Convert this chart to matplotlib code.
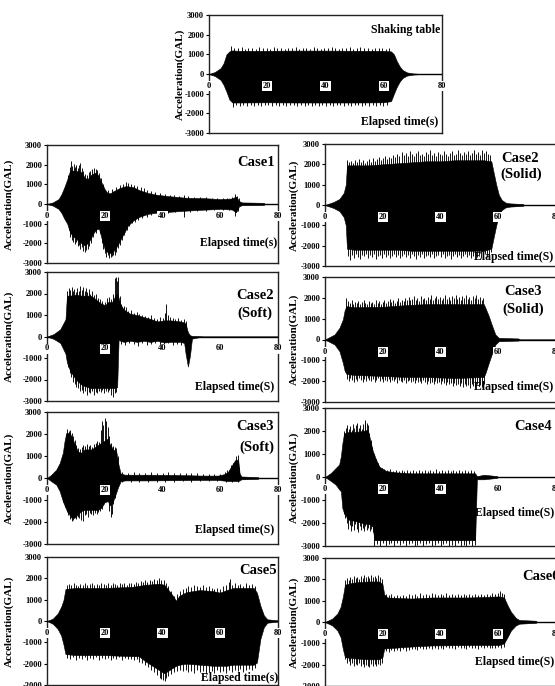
import matplotlib
matplotlib.use("Agg")
import matplotlib.pyplot as plt

W, H = 555, 686
FONT = "Liberation Serif"

# ---------------- data (GAL vs elapsed time s) ----------------
# Each record: base envelope (t, upper, lower) + peak spikes (t, value) above / below it.

# Shaking table
st_t  = [0, 2, 4, 5, 6, 7, 8, 10, 20, 30, 40, 50, 60, 62.5, 63.5, 64.5, 65.5, 66.5, 68, 70, 72, 80]
st_up = [0, 100, 300, 550, 1000, 1150, 1200, 1180, 1180, 1190, 1190, 1180, 1180, 1150, 1000, 650, 380, 200, 80, 30, 10, 0]
st_lo = [0, -100, -300, -550, -900, -1300, -1450, -1450, -1440, -1450, -1450, -1450, -1440, -1380, -1000, -650, -380, -200, -80, -30, -10, 0]
st_pk_up = [(7.6, 1420), (8.7, 1330), (9.9, 1300), (11.2, 1360), (12.4, 1290), (13.5, 1340), (14.8, 1310),
            (16.1, 1280), (17.3, 1350), (18.6, 1300), (19.8, 1330), (21.0, 1290), (22.3, 1370), (23.5, 1300),
            (24.8, 1320), (26.0, 1280), (27.2, 1340), (28.5, 1310), (29.7, 1360), (31.0, 1290), (32.2, 1330),
            (33.4, 1300), (34.7, 1280), (35.9, 1350), (37.2, 1320), (38.4, 1290), (39.6, 1340), (40.9, 1300),
            (42.1, 1360), (43.4, 1310), (44.6, 1280), (45.8, 1330), (47.1, 1300), (48.3, 1350), (49.6, 1290),
            (50.8, 1320), (52.0, 1370), (53.3, 1300), (54.5, 1330), (55.8, 1290), (57.0, 1340), (58.2, 1310),
            (59.5, 1300), (60.7, 1280), (61.9, 1320)]
st_pk_lo = [(8.1, -1660), (9.3, -1580), (10.6, -1620), (11.8, -1560), (13.0, -1640), (14.3, -1590), (15.5, -1610),
            (16.7, -1570), (18.0, -1650), (19.2, -1580), (20.4, -1600), (21.7, -1630), (22.9, -1560), (24.1, -1620),
            (25.4, -1590), (26.6, -1650), (27.8, -1570), (29.1, -1600), (30.3, -1620), (31.5, -1580), (32.8, -1640),
            (34.0, -1560), (35.2, -1610), (36.5, -1590), (37.7, -1650), (38.9, -1570), (40.2, -1620), (41.4, -1600),
            (42.6, -1640), (43.9, -1580), (45.1, -1560), (46.3, -1630), (47.6, -1600), (48.8, -1650), (50.0, -1590),
            (51.3, -1570), (52.5, -1620), (53.7, -1600), (55.0, -1640), (56.2, -1580), (57.4, -1610), (58.7, -1590),
            (59.9, -1650), (61.1, -1600)]

# Case1
c1_t  = [0, 2, 4, 5, 6, 7, 8, 9, 10, 11, 12, 13, 14, 15, 16, 17, 18, 19, 20, 21, 22, 23, 24, 25, 26, 27, 28, 30, 32, 35, 38, 42, 48, 54, 60, 64, 65.5, 66.5, 67.5, 75, 75.5, 80]
c1_up = [0, 80, 250, 500, 850, 1250, 1700, 1700, 1650, 1700, 1600, 1350, 1250, 1450, 1550, 1600, 1400, 1050, 750, 550, 550, 650, 720, 800, 850, 900, 900, 850, 700, 560, 470, 400, 320, 300, 250, 280, 380, 150, 80, 60, 0, 0]
c1_lo = [0, -80, -250, -450, -750, -1000, -1450, -1650, -1750, -1900, -2000, -2100, -2000, -1800, -1500, -1300, -1250, -1800, -2300, -2450, -2500, -2400, -2200, -1950, -1650, -1400, -1100, -820, -650, -500, -440, -400, -340, -290, -250, -280, -420, -120, -60, -50, 0, 0]
c1_pk_up = [(7.3, 1500), (7.8, 1900), (8.2, 2200), (8.7, 1950), (9.2, 2050), (9.7, 1900), (10.2, 2000), (10.7, 1850),
            (11.2, 2000), (11.6, 2100), (12.1, 1850), (12.6, 1700), (13.2, 1550), (13.8, 1500), (14.4, 1650),
            (15.0, 1700), (15.6, 1780), (16.2, 1820), (16.8, 1800), (17.4, 1750), (18.0, 1600), (18.6, 1300),
            (19.4, 1000), (21.0, 700), (22.5, 750), (24.0, 880), (25.2, 950), (26.3, 1000), (27.4, 1100),
            (28.2, 1050), (29.0, 1020), (30.2, 950), (31.3, 900), (32.5, 850), (33.6, 820), (34.7, 700),
            (36.0, 680), (37.4, 600), (39.0, 550), (40.8, 500), (42.5, 480), (44.0, 450), (45.8, 430), (47.5, 460),
            (49.0, 400), (51.0, 380), (53.0, 360), (55.0, 350), (57.0, 320), (59.0, 300), (61.0, 300), (62.5, 320),
            (64.0, 380), (65.0, 500), (65.8, 420), (66.6, 300)]
c1_pk_lo = [(7.5, -1300), (8.0, -1700), (8.6, -1850), (9.1, -1950), (9.6, -2050), (10.1, -1950), (10.6, -2150),
            (11.1, -2100), (11.6, -2300), (12.1, -2200), (12.6, -2400), (13.1, -2450), (13.6, -2350), (14.1, -2300),
            (14.7, -2150), (15.3, -2000), (16.0, -1700), (17.0, -1450), (18.2, -1450), (18.9, -2000), (19.5, -2300),
            (20.0, -2500), (20.5, -2700), (21.0, -2600), (21.5, -2750), (22.0, -2700), (22.5, -2650), (23.0, -2600),
            (23.5, -2600), (24.0, -2450), (24.6, -2250), (25.3, -2100), (26.0, -1850), (26.8, -1600), (27.6, -1300),
            (28.5, -1100), (29.5, -950), (30.5, -900), (31.6, -800), (33.0, -720), (34.5, -650), (36.0, -580),
            (38.0, -520), (40.0, -480), (42.0, -450), (44.5, -430), (47.5, -650), (49.5, -400), (52.0, -380),
            (55.0, -350), (58.0, -320), (61.0, -300), (63.0, -320), (65.0, -600), (66.0, -350)]

# Case2 (Solid)
c2s_t  = [0, 3, 5, 6.5, 7.2, 7.6, 10, 15, 20, 25, 30, 35, 40, 45, 50, 55, 57.6, 58.4, 59.3, 60.2, 61.2, 62.5, 64, 68.5, 69, 80]
c2s_up = [0, 150, 300, 600, 1000, 1950, 1950, 1950, 2000, 2050, 2100, 2150, 2150, 2200, 2200, 2200, 2150, 1600, 1000, 500, 250, 120, 80, 50, 0, 0]
c2s_lo = [0, -150, -300, -600, -1000, -2150, -2200, -2200, -2200, -2200, -2250, -2250, -2250, -2250, -2250, -2250, -2150, -1600, -1000, -500, -250, -120, -80, -40, 0, 0]
c2s_pk_up = [(7.6, 2200), (8.3, 2100), (9.0, 2150), (9.7, 2050), (10.4, 2200), (11.1, 2100), (11.8, 2250), (12.5, 2100),
             (13.2, 2200), (13.9, 2050), (14.6, 2150), (15.3, 2250), (16.0, 2100), (16.7, 2300), (17.4, 2150),
             (18.1, 2250), (18.8, 2350), (19.5, 2200), (20.2, 2300), (20.9, 2400), (21.6, 2250), (22.3, 2350),
             (23.0, 2300), (23.7, 2450), (24.4, 2350), (25.1, 2500), (25.8, 2400), (26.5, 2600), (27.2, 2450),
             (27.9, 2550), (28.6, 2400), (29.3, 2650), (30.0, 2500), (30.7, 2400), (31.4, 2550), (32.1, 2650),
             (32.8, 2450), (33.5, 2500), (34.2, 2400), (34.9, 2600), (35.6, 2500), (36.3, 2700), (37.0, 2450),
             (37.7, 2550), (38.4, 2400), (39.1, 2600), (39.8, 2500), (40.5, 2450), (41.2, 2650), (41.9, 2500),
             (42.6, 2400), (43.3, 2550), (44.0, 2650), (44.7, 2450), (45.4, 2500), (46.1, 2700), (46.8, 2550),
             (47.5, 2450), (48.2, 2600), (48.9, 2500), (49.6, 2650), (50.3, 2450), (51.0, 2550), (51.7, 2700),
             (52.4, 2500), (53.1, 2600), (53.8, 2450), (54.5, 2700), (55.2, 2550), (55.9, 2650), (56.6, 2500),
             (57.2, 2450)]
c2s_pk_lo = [(7.8, -2500), (8.5, -2700), (9.2, -2450), (9.9, -2600), (10.6, -2400), (11.3, -2550), (12.0, -2650),
             (12.7, -2450), (13.4, -2500), (14.1, -2400), (14.8, -2600), (15.5, -2450), (16.2, -2550), (16.9, -2400),
             (17.6, -2650), (18.3, -2500), (19.0, -2450), (19.7, -2600), (20.4, -2400), (21.1, -2550), (21.8, -2450),
             (22.5, -2600), (23.2, -2500), (23.9, -2400), (24.6, -2550), (25.3, -2450), (26.0, -2600), (26.7, -2500),
             (27.4, -2400), (28.1, -2550), (28.8, -2450), (29.5, -2600), (30.2, -2400), (30.9, -2500), (31.6, -2650),
             (32.3, -2450), (33.0, -2550), (33.7, -2400), (34.4, -2600), (35.1, -2500), (35.8, -2450), (36.5, -2550),
             (37.2, -2400), (37.9, -2600), (38.6, -2500), (39.3, -2450), (40.0, -2550), (40.7, -2400), (41.4, -2600),
             (42.1, -2500), (42.8, -2450), (43.5, -2650), (44.2, -2500), (44.9, -2400), (45.6, -2550), (46.3, -2450),
             (47.0, -2600), (47.7, -2500), (48.4, -2400), (49.1, -2550), (49.8, -2450), (50.5, -2600), (51.2, -2500),
             (51.9, -2400), (52.6, -2550), (53.3, -2450), (54.0, -2600), (54.7, -2500), (55.4, -2400), (56.1, -2550),
             (56.8, -2450), (57.4, -2300)]

# Case2 (Soft)
c2f_t  = [0, 2.3, 4.6, 6.4, 6.9, 8, 10, 12, 15, 16.2, 18.5, 20.2, 21, 22.5, 23.7, 24.3, 24.8, 25.4, 26.6, 28.9, 31.2, 33.5, 35.8, 38.2, 40.5, 42.8, 46.2, 47.5, 48, 48.8, 49.5, 50.2, 53, 54, 80]
c2f_up = [0, 110, 340, 800, 1900, 1900, 1950, 1900, 1900, 1800, 1550, 1450, 1600, 1600, 1900, 2000, 1800, 1500, 1250, 1050, 1000, 900, 820, 700, 750, 750, 700, 650, 600, 200, 60, 30, 20, 0, 0]
c2f_lo = [0, -110, -300, -800, -1200, -1600, -2000, -2250, -2400, -2400, -2400, -2400, -2400, -2400, -2400, -2350, -150, -200, -250, -200, -250, -200, -250, -200, -280, -250, -250, -300, -800, -1400, -900, -100, -20, 0, 0]
c2f_pk_up = [(7.0, 2100), (7.5, 2250), (8.0, 2150), (8.5, 2300), (9.0, 2100), (9.5, 2200), (10.0, 2050), (10.5, 2250),
             (11.0, 2100), (11.5, 2350), (12.0, 2150), (12.5, 2300), (13.0, 2100), (13.5, 2250), (14.0, 2050),
             (14.5, 2200), (15.0, 2000), (15.6, 2100), (16.2, 1950), (16.8, 2000), (17.5, 1800), (18.3, 1750),
             (19.2, 1650), (20.0, 1600), (20.8, 1800), (21.5, 1850), (22.2, 1750), (22.8, 2000), (23.4, 2700),
             (23.8, 2750), (24.2, 2600), (24.7, 2750), (25.2, 1900), (25.8, 1500), (26.5, 1400), (27.3, 1350),
             (28.2, 1200), (29.0, 1250), (30.0, 1100), (31.0, 1150), (32.0, 1050), (33.0, 1000), (34.0, 950),
             (35.0, 900), (36.0, 1000), (37.0, 850), (38.0, 800), (39.0, 900), (40.0, 850), (40.7, 1100),
             (41.2, 1500), (41.8, 1000), (42.6, 900), (43.5, 850), (44.5, 800), (45.5, 850), (46.5, 750),
             (47.5, 800), (48.0, 700)]
c2f_pk_lo = [(7.2, -1400), (7.8, -1700), (8.4, -1900), (9.0, -2100), (9.6, -2200), (10.2, -2350), (10.8, -2400),
             (11.4, -2550), (12.0, -2500), (12.6, -2650), (13.2, -2550), (13.8, -2700), (14.4, -2600), (15.0, -2650),
             (15.6, -2550), (16.2, -2700), (16.8, -2600), (17.4, -2650), (18.0, -2550), (18.6, -2600), (19.2, -2500),
             (19.8, -2650), (20.4, -2550), (21.0, -2600), (21.6, -2500), (22.2, -2700), (22.8, -2800), (23.4, -2650),
             (24.0, -2600), (25.5, -350), (27.0, -400), (28.5, -300), (30.0, -350), (31.5, -450), (33.0, -300),
             (34.5, -400), (36.0, -350), (37.5, -300), (39.0, -400), (40.5, -350), (42.0, -300), (43.5, -400),
             (45.0, -350), (46.5, -400)]

# Case3 (Solid)
c3s_t  = [0, 3.3, 5, 6.2, 6.8, 7.4, 10, 20, 28, 35, 45, 55, 55.6, 56.7, 57.9, 59, 60.2, 67, 67.5, 80]
c3s_up = [0, 240, 560, 970, 1400, 1600, 1550, 1570, 1650, 1700, 1700, 1700, 1500, 1130, 650, 240, 80, 50, 0, 0]
c3s_lo = [0, -240, -560, -1130, -1500, -1650, -1700, -1750, -1800, -1800, -1850, -1800, -1600, -1130, -650, -240, -80, -50, 0, 0]
c3s_pk_up = [(7.4, 2000), (8.0, 1850), (8.6, 1750), (9.2, 1900), (9.8, 1700), (10.4, 1800), (11.0, 1750), (11.6, 1850),
             (12.2, 1700), (12.8, 1800), (13.4, 1900), (14.0, 1750), (14.6, 1700), (15.2, 1850), (15.8, 1750),
             (16.4, 1800), (17.0, 1700), (17.6, 1900), (18.2, 1750), (18.8, 1850), (19.4, 1700), (20.0, 1800),
             (20.6, 1900), (21.2, 1750), (21.8, 1850), (22.4, 1950), (23.0, 1800), (23.6, 1900), (24.2, 1750),
             (24.8, 1850), (25.4, 2000), (26.0, 1800), (26.6, 1900), (27.2, 1850), (27.8, 2000), (28.4, 1900),
             (29.0, 2050), (29.6, 1900), (30.2, 1950), (30.8, 2100), (31.4, 1900), (32.0, 2000), (32.6, 1850),
             (33.2, 2100), (33.8, 1950), (34.4, 2000), (35.0, 1900), (35.6, 2050), (36.2, 1950), (36.8, 2150),
             (37.4, 1900), (38.0, 2000), (38.6, 2100), (39.2, 1950), (39.8, 2050), (40.4, 1900), (41.0, 2000),
             (41.6, 2150), (42.2, 1950), (42.8, 2050), (43.4, 1900), (44.0, 2100), (44.6, 2000), (45.2, 2150),
             (45.8, 1950), (46.4, 2050), (47.0, 1900), (47.6, 2100), (48.2, 2000), (48.8, 2150), (49.4, 1950),
             (50.0, 2050), (50.6, 1900), (51.2, 2100), (51.8, 2000), (52.4, 2150), (53.0, 1950), (53.6, 2050),
             (54.2, 1900), (54.8, 2000)]
c3s_pk_lo = [(7.6, -1900), (8.2, -2000), (8.8, -1850), (9.4, -1950), (10.0, -2050), (10.6, -1900), (11.2, -2000),
             (11.8, -1850), (12.4, -1950), (13.0, -2050), (13.6, -1900), (14.2, -2000), (14.8, -1850), (15.4, -1950),
             (16.0, -2000), (16.6, -1900), (17.2, -2050), (17.8, -1950), (18.4, -1850), (19.0, -2000), (19.6, -1900),
             (20.2, -2050), (20.8, -1950), (21.4, -2000), (22.0, -1900), (22.6, -2050), (23.2, -1950), (23.8, -2000),
             (24.4, -1900), (25.0, -2100), (25.6, -1950), (26.2, -2000), (26.8, -2050), (27.4, -1950), (28.0, -2100),
             (28.6, -2000), (29.2, -1950), (29.8, -2050), (30.4, -2000), (31.0, -2100), (31.6, -1950), (32.2, -2050),
             (32.8, -2000), (33.4, -2100), (34.0, -1950), (34.6, -2050), (35.2, -2150), (35.8, -2000), (36.4, -2100),
             (37.0, -2050), (37.6, -2150), (38.2, -2000), (38.8, -2100), (39.4, -2050), (40.0, -2150), (40.6, -2000),
             (41.2, -2100), (41.8, -2200), (42.4, -2050), (43.0, -2150), (43.6, -2100), (44.2, -2250), (44.8, -2100),
             (45.4, -2200), (46.0, -2150), (46.6, -2250), (47.2, -2100), (47.8, -2300), (48.4, -2150), (49.0, -2250),
             (49.6, -2200), (50.2, -2350), (50.8, -2150), (51.4, -2250), (52.0, -2300), (52.6, -2150), (53.2, -2250),
             (53.8, -2200), (54.4, -2300), (55.0, -2150)]

# Case3 (Soft)
c3f_t  = [0, 1.5, 3.2, 4.4, 5.5, 6.1, 6.7, 7.9, 8.4, 9.6, 10.7, 11.9, 13, 15.4, 17.7, 18.8, 20, 21.1, 21.7, 22.9, 24, 24.6, 25.5, 27, 35, 45, 53.5, 59.2, 61.5, 62.7, 63.9, 65, 66.2, 66.7, 67.3, 73, 73.5, 80]
c3f_up = [0, 150, 380, 680, 1150, 1700, 2050, 2050, 1900, 1550, 1200, 1150, 1300, 1300, 1500, 1600, 1700, 1800, 1550, 1300, 1200, 700, 200, 150, 150, 140, 110, 110, 180, 280, 550, 780, 850, 220, 70, 40, 0, 0]
c3f_lo = [0, -150, -300, -600, -1060, -1250, -1440, -1700, -1800, -1800, -1650, -1500, -1450, -1450, -1450, -1350, -1100, -1050, -1250, -1050, -650, -420, -150, -110, -110, -100, -90, -90, -120, -140, -140, -140, -140, -110, -60, -40, 0, 0]
c3f_pk_up = [(6.5, 2000), (7.0, 2250), (7.5, 2150), (8.0, 2200), (8.5, 2050), (9.0, 1900), (9.6, 1750), (10.2, 1500),
             (10.8, 1350), (11.4, 1300), (12.0, 1400), (12.6, 1500), (13.2, 1450), (13.8, 1550), (14.4, 1450),
             (15.0, 1500), (15.6, 1400), (16.2, 1550), (16.8, 1600), (17.4, 1700), (18.0, 1650), (18.6, 2200),
             (19.0, 2580), (19.5, 2400), (20.0, 2730), (20.5, 2600), (21.0, 2300), (21.6, 1900), (22.2, 1600),
             (22.8, 1450), (23.4, 1400), (24.0, 1350), (24.5, 1000), (26.0, 260), (28.0, 230), (30.0, 270),
             (32.0, 220), (34.0, 250), (36.0, 260), (38.0, 220), (40.0, 240), (42.0, 260), (44.0, 230), (46.0, 250),
             (48.0, 220), (50.0, 240), (52.0, 210), (54.0, 200), (56.0, 190), (58.0, 180), (60.0, 200), (61.5, 270),
             (62.5, 380), (63.2, 350), (63.8, 600), (64.5, 700), (65.0, 830), (65.6, 1000), (66.1, 1030), (66.5, 500)]
c3f_pk_lo = [(5.5, -1100), (6.2, -1300), (6.8, -1550), (7.4, -1700), (8.0, -1850), (8.5, -1950), (9.0, -1900),
             (9.5, -1800), (10.0, -1850), (10.6, -1750), (11.2, -1800), (11.8, -1900), (12.4, -1950), (13.0, -1700),
             (13.6, -1650), (14.2, -1750), (14.8, -1600), (15.4, -1650), (16.0, -1700), (16.6, -1600), (17.2, -1650),
             (17.8, -1550), (18.4, -1500), (19.0, -1400), (21.6, -1500), (22.0, -1750), (22.4, -1650), (23.0, -1200),
             (23.6, -900), (26.0, -180), (29.0, -200), (32.0, -170), (35.0, -190), (38.0, -160), (41.0, -180),
             (44.0, -170), (47.0, -150), (50.0, -160), (53.0, -140), (56.0, -150), (59.0, -140), (62.0, -170),
             (64.0, -180), (66.0, -170)]

# Case4
c4_t  = [0, 2, 3.7, 4.9, 5.5, 6, 6.6, 8, 10, 13, 14.8, 15.3, 16.5, 17.1, 17.7, 18.8, 21.2, 24.7, 30, 40, 50, 52, 52.6, 55, 59.5, 60, 80]
c4_up = [0, 170, 390, 540, 900, 1450, 1900, 1950, 1950, 2000, 2050, 1800, 1150, 950, 750, 450, 260, 200, 160, 160, 160, 160, 30, 100, 40, 0, 0]
c4_lo = [0, -170, -330, -540, -620, -1350, -1570, -1850, -1900, -2000, -2050, -2050, -2150, -2750, -2750, -2750, -2750, -2750, -2750, -2750, -2750, -2750, -100, -100, -40, 0, 0]
c4_pk_up = [(6.7, 2000), (7.2, 2150), (7.7, 2250), (8.2, 2100), (8.7, 2200), (9.2, 2050), (9.7, 2300), (10.2, 2150),
            (10.7, 2250), (11.2, 2350), (11.7, 2150), (12.2, 2250), (12.7, 2100), (13.2, 2300), (13.7, 2400),
            (14.0, 2490), (14.4, 2350), (14.8, 2250), (15.3, 1900), (15.8, 1600), (16.4, 1300), (17.0, 1000),
            (17.6, 800), (18.2, 600), (18.8, 500), (19.6, 400), (20.5, 330), (21.5, 300), (22.5, 330), (23.5, 280),
            (24.5, 300), (25.5, 270), (26.5, 320), (27.5, 250), (28.5, 300), (29.5, 260), (30.5, 320), (31.5, 250),
            (32.5, 290), (33.5, 260), (34.5, 310), (35.5, 250), (36.5, 300), (37.5, 260), (38.5, 330), (39.5, 250),
            (40.5, 300), (41.5, 270), (42.5, 310), (43.5, 250), (44.5, 290), (45.5, 260), (46.5, 320), (47.5, 250),
            (48.5, 300), (49.5, 270), (50.5, 310), (51.5, 260)]
c4_pk_lo = [(6.5, -1600), (7.0, -1800), (7.5, -2000), (8.0, -2250), (8.5, -2100), (9.0, -2350), (9.5, -2150),
            (10.0, -2300), (10.5, -2050), (11.0, -2250), (11.5, -2400), (12.0, -2150), (12.5, -2300), (13.0, -2200),
            (13.5, -2350), (14.0, -2150), (14.5, -2300), (15.0, -2200), (15.5, -2350), (16.0, -2250), (16.5, -2400),
            (17.1, -3000), (18.0, -2900), (19.0, -3000), (20.0, -2850), (21.0, -3000), (22.0, -2900), (23.0, -2850),
            (24.0, -3000), (25.0, -2850), (26.0, -2950), (27.0, -2850), (28.0, -3000), (29.0, -2900), (30.0, -2850),
            (31.0, -3000), (32.0, -2950), (33.0, -2850), (34.0, -3000), (35.0, -2900), (36.0, -2850), (37.0, -3000),
            (38.0, -2950), (39.0, -2850), (40.0, -3000), (41.0, -2900), (42.0, -2850), (43.0, -3000), (44.0, -2950),
            (45.0, -3000), (46.0, -2850), (47.0, -3000), (48.0, -2950), (49.0, -3000), (50.0, -2900), (51.0, -3000),
            (52.0, -2950)]

# Case5
c5_t  = [0, 2, 3.7, 4.9, 5.7, 6.4, 10, 20, 29.5, 31.8, 34.2, 36.5, 38.8, 40.6, 41.8, 43.5, 44.7, 45.8, 48.2, 52.9, 57.5, 59.9, 62.2, 64.6, 71.6, 72.7, 73.9, 75.1, 76.3, 79.8, 80]
c5_up = [0, 110, 350, 670, 980, 1500, 1550, 1550, 1600, 1650, 1700, 1720, 1750, 1700, 1500, 1200, 950, 1180, 1350, 1450, 1400, 1330, 1450, 1550, 1550, 1330, 720, 270, 80, 30, 0]
c5_lo = [0, -130, -370, -680, -1100, -1550, -1600, -1600, -1650, -1650, -1900, -2100, -2300, -2450, -2350, -2200, -2100, -2050, -2000, -2050, -2100, -2100, -2100, -2050, -2050, -1950, -840, -290, -80, -30, 0]
c5_pk_up = [(6.8, 1700), (7.6, 1750), (8.4, 1680), (9.2, 1780), (10.0, 1700), (10.8, 1650), (11.6, 1750), (12.4, 1700),
            (13.2, 1780), (14.0, 1680), (14.8, 1720), (15.6, 1760), (16.4, 1680), (17.2, 1740), (18.0, 1700),
            (18.8, 1780), (19.6, 1720), (20.4, 1680), (21.2, 1760), (22.0, 1700), (22.8, 1800), (23.6, 1720),
            (24.4, 1680), (25.2, 1760), (26.0, 1720), (26.8, 1780), (27.6, 1700), (28.4, 1760), (29.2, 1800),
            (30.0, 1750), (30.8, 1850), (31.6, 1800), (32.4, 1880), (33.2, 1820), (34.0, 1900), (34.8, 1850),
            (35.6, 1920), (36.4, 1880), (37.2, 1950), (38.0, 1900), (38.8, 2020), (39.6, 1920), (40.4, 1900),
            (41.2, 1800), (42.0, 1650), (43.0, 1400), (44.0, 1150), (45.0, 1250), (46.0, 1400), (47.0, 1500),
            (48.0, 1550), (49.0, 1650), (50.0, 1600), (51.0, 1700), (52.0, 1650), (53.0, 1600), (54.0, 1700),
            (55.0, 1580), (56.0, 1650), (57.0, 1550), (58.0, 1500), (59.0, 1550), (60.0, 1500), (61.0, 1650),
            (62.0, 1700), (63.0, 1850), (63.5, 1950), (64.2, 1700), (65.0, 1800), (66.0, 1700), (67.0, 1750),
            (68.0, 1650), (69.0, 1800), (70.0, 1700), (71.0, 1750), (72.0, 1650)]
c5_pk_lo = [(7.0, -1750), (8.0, -1800), (9.0, -1700), (10.0, -1850), (11.0, -1750), (12.0, -1800), (13.0, -1700),
            (14.0, -1850), (15.0, -1750), (16.0, -1800), (17.0, -1700), (18.0, -1850), (19.0, -1750), (20.0, -1800),
            (21.0, -1720), (22.0, -1850), (23.0, -1750), (24.0, -1800), (25.0, -1700), (26.0, -1850), (27.0, -1750),
            (28.0, -1800), (29.0, -1780), (30.0, -1850), (31.0, -1800), (32.0, -1900), (33.0, -1950), (34.0, -2050),
            (35.0, -2150), (36.0, -2300), (37.0, -2400), (38.0, -2550), (39.0, -2650), (39.6, -2700), (40.2, -2750),
            (40.7, -2800), (41.3, -2650), (42.0, -2600), (43.0, -2500), (44.0, -2400), (45.0, -2350), (46.0, -2300),
            (47.0, -2350), (48.0, -2300), (49.0, -2400), (50.0, -2350), (51.0, -2450), (52.0, -2300), (53.0, -2400),
            (54.0, -2350), (55.0, -2500), (56.0, -2400), (57.0, -2350), (58.0, -2450), (59.0, -2300), (60.0, -2400),
            (61.0, -2350), (62.0, -2450), (63.0, -2300), (64.0, -2400), (65.0, -2300), (66.0, -2350), (67.0, -2250),
            (68.0, -2400), (69.0, -2300), (70.0, -2250), (71.0, -2300), (72.0, -2200)]

# Case6
c6_t  = [0, 2.5, 4.3, 5.4, 6.2, 6.9, 10, 15, 18.7, 19.9, 20.5, 21.6, 30, 37, 50, 60.3, 62, 63.2, 64.4, 66.1, 67.3, 73, 73.5, 80]
c6_up = [0, 160, 400, 710, 1190, 1750, 1850, 1900, 1900, 1780, 1300, 1150, 1100, 1150, 1150, 1200, 1150, 790, 480, 190, 95, 60, 0, 0]
c6_lo = [0, -160, -400, -710, -1270, -1650, -1700, -1750, -1750, -1650, -1250, -1230, -1150, -1100, -1080, -1080, -1000, -710, -400, -160, -80, -40, 0, 0]
c6_pk_up = [(7.0, 1950), (7.6, 2050), (8.2, 1950), (8.8, 2100), (9.4, 2000), (10.0, 2150), (10.6, 2050), (11.2, 2100),
            (11.8, 2000), (12.4, 2150), (13.0, 2050), (13.6, 2200), (14.2, 2100), (14.8, 2150), (15.4, 2050),
            (16.0, 2200), (16.6, 2100), (17.2, 2150), (17.8, 2050), (18.4, 2200), (19.0, 2100), (19.6, 2000),
            (21.0, 1300), (22.0, 1250), (23.0, 1300), (24.0, 1220), (25.0, 1280), (26.0, 1200), (27.0, 1260),
            (28.0, 1220), (29.0, 1300), (30.0, 1250), (31.0, 1320), (32.0, 1240), (33.0, 1380), (34.0, 1260),
            (35.0, 1320), (36.0, 1280), (37.0, 1350), (38.0, 1300), (39.0, 1280), (40.0, 1320), (41.0, 1260),
            (42.0, 1340), (43.0, 1280), (44.0, 1320), (45.0, 1260), (46.0, 1300), (47.0, 1280), (48.0, 1320),
            (49.0, 1260), (50.0, 1300), (51.0, 1280), (52.0, 1330), (53.0, 1260), (54.0, 1300), (55.0, 1280),
            (56.0, 1320), (57.0, 1280), (58.0, 1350), (59.0, 1300), (60.0, 1380), (60.5, 1430), (61.2, 1350),
            (62.0, 1300)]
c6_pk_lo = [(7.0, -1750), (7.6, -1900), (8.2, -1850), (8.8, -2000), (9.4, -1900), (10.0, -2050), (10.6, -1950),
            (11.2, -2000), (11.8, -1900), (12.4, -2050), (13.0, -1950), (13.6, -2100), (14.2, -2000), (14.8, -2050),
            (15.3, -2100), (16.0, -1950), (16.6, -2050), (17.2, -1950), (17.8, -2050), (18.4, -1950), (19.0, -2000),
            (19.6, -1900), (21.0, -1350), (22.0, -1400), (23.0, -1320), (24.0, -1380), (25.0, -1300), (26.0, -1350),
            (27.0, -1280), (28.0, -1340), (29.0, -1300), (30.0, -1280), (31.0, -1250), (32.0, -1300), (33.0, -1220),
            (34.0, -1280), (35.0, -1250), (36.0, -1200), (37.0, -1260), (38.0, -1220), (39.0, -1280), (40.0, -1200),
            (41.0, -1250), (42.0, -1180), (43.0, -1240), (44.0, -1200), (45.0, -1260), (46.0, -1180), (47.0, -1230),
            (48.0, -1200), (49.0, -1250), (50.0, -1180), (51.0, -1220), (52.0, -1200), (53.0, -1250), (54.0, -1180),
            (55.0, -1220), (56.0, -1180), (57.0, -1240), (58.0, -1200), (59.0, -1230), (60.0, -1180), (61.0, -1220),
            (62.0, -1150)]

x_ticks = [0, 20, 40, 60, 80]
y_ticks = [-3000, -2000, -1000, 0, 1000, 2000, 3000]

# ---------------- figure ----------------
fig = plt.figure(figsize=(W / 100, H / 100), dpi=100)
fig.patch.set_facecolor("white")


def fx(x):
    return x / W


def fy(y):
    return 1 - y / H


def make_axes(x0, x80, ytop, ybot):
    return fig.add_axes([fx(x0), fy(ybot), (x80 - x0) / W, (ybot - ytop) / H])


def panel(rect, t, up, lo, pk_up, pk_lo, ylab_x):
    ax = make_axes(*rect)
    ax.set_xlim(0, 80)
    ax.set_ylim(-3000, 3000)
    ax.fill_between(t, lo, up, color="black", lw=0.4, zorder=2)
    ax.vlines([p[0] for p in pk_up], 0, [p[1] for p in pk_up], color="black", lw=0.65, zorder=2)
    ax.vlines([p[0] for p in pk_lo], [p[1] for p in pk_lo], 0, color="black", lw=0.65, zorder=2)
    ax.axhline(0, color="black", lw=1.0, zorder=3)
    for s in ax.spines.values():
        s.set_linewidth(1.0)
        s.set_color("#222222")
    ax.set_xticks([])
    ax.set_yticks(y_ticks)
    ax.set_yticklabels([str(v) for v in y_ticks], fontfamily=FONT,
                       fontweight="bold", fontsize=6)
    ax.tick_params(axis="y", direction="out", length=2, width=0.8, pad=1.5)
    for v in x_ticks:
        ax.annotate(str(v), xy=(v, 0), xytext=(0, -12), textcoords="offset pixels",
                    ha="center", va="center", fontfamily=FONT, fontweight="bold",
                    fontsize=6, zorder=5, annotation_clip=False,
                    bbox=dict(boxstyle="square,pad=0.12", fc="white", ec="none"))
    yc = (rect[2] + rect[3]) / 2
    fig.text(fx(ylab_x), fy(yc), "Acceleration(GAL)", rotation=90, ha="center",
             va="center", fontfamily=FONT, fontweight="bold", fontsize=8)
    return ax


def label(x, y, s, ha="right", size=10.5):
    fig.text(fx(x), fy(y), s, ha=ha, va="center", fontfamily=FONT,
             fontweight="bold", fontsize=size)


# top panel
panel((209, 442, 15, 133), st_t, st_up, st_lo, st_pk_up, st_pk_lo, 180)
label(440, 30, "Shaking table", size=8.5)
label(438, 122, "Elapsed time(s)", size=8.5)

# left column
panel((47, 278, 145, 263), c1_t, c1_up, c1_lo, c1_pk_up, c1_pk_lo, 9)
label(275, 163, "Case1")
label(277, 243, "Elapsed time(s)", size=8.5)

panel((47, 278, 272, 401), c2f_t, c2f_up, c2f_lo, c2f_pk_up, c2f_pk_lo, 9)
label(274, 295, "Case2")
label(272, 313, "(Soft)")
label(274, 387, "Elapsed time(S)", size=8.5)

panel((47, 278, 412, 544), c3f_t, c3f_up, c3f_lo, c3f_pk_up, c3f_pk_lo, 9)
label(274, 427, "Case3")
label(274, 447, "(Soft)")
label(274, 530, "Elapsed time(S)", size=8.5)

panel((47, 278, 557, 685), c5_t, c5_up, c5_lo, c5_pk_up, c5_pk_lo, 9)
label(277, 570, "Case5")
label(278, 678, "Elapsed time(s)", size=8.5)

# right column (its right end is cut by the picture edge, as in the reference)
panel((325, 556, 144, 266), c2s_t, c2s_up, c2s_lo, c2s_pk_up, c2s_pk_lo, 294)
label(520, 158, "Case2", ha="center")
label(521, 174, "(Solid)", ha="center")
label(553, 257, "Elapsed time(S)", size=8.5)

panel((325, 556, 277, 402), c3s_t, c3s_up, c3s_lo, c3s_pk_up, c3s_pk_lo, 294)
label(523, 292, "Case3", ha="center")
label(523, 309, "(Solid)", ha="center")
label(553, 387, "Elapsed time(S)", size=8.5)

panel((325, 556, 408, 546), c4_t, c4_up, c4_lo, c4_pk_up, c4_pk_lo, 294)
label(533, 427, "Case4", ha="center")
label(554, 513, "Elapsed time(S)", size=8.5)

panel((325, 556, 558, 686), c6_t, c6_up, c6_lo, c6_pk_up, c6_pk_lo, 294)
label(522, 577, "Case6", ha="left")
label(475, 662, "Elapsed time(S)", ha="left", size=8.5)

fig.savefig("out.png", dpi=100, facecolor="white")
